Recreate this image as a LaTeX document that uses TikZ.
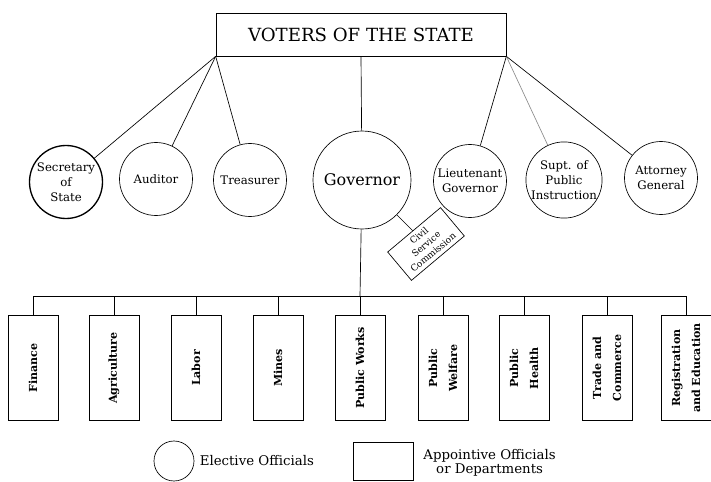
\documentclass[tikz,border=0pt]{standalone}
\usepackage{fontspec}
\setmainfont{DejaVu Serif}
\usetikzlibrary{positioning, calc}

\begin{document}
\begin{tikzpicture}[x=0.75pt, y=-0.75pt, line width=0.5pt,
  voterbox/.style={draw, minimum width=290*\px, minimum height=43*\px,
    font=\fontsize{13.6}{15}\selectfont},
  elect/.style={circle, draw, inner sep=0pt, minimum size=73*\px,
    align=center, font=\fontsize{8.8}{11.2}\selectfont},
  dept/.style={draw, minimum width=50*\px, minimum height=105*\px, inner sep=0pt},
  deptlbl/.style={rotate=90, align=center, inner sep=0pt,
    font=\bfseries\fontsize{8.3}{15}\selectfont},
  civbox/.style={draw, rotate=40, minimum width=69*\px, minimum height=37*\px,
    inner sep=0pt, align=center, font=\fontsize{6.8}{8.2}\selectfont},
  keytext/.style={align=center, font=\fontsize{10}{10.5}\selectfont}]
  \def\px{0.75pt}   % one pixel of the reference

  \useasboundingbox (0,0) rectangle (711,482);

  % ---- Voters ----
  \node[voterbox] (voters) at (361,34.5) {VOTERS OF THE STATE};

  % ---- Elective officials ----
  \node[elect, line width=1pt] (sec) at (66,182) {Secretary\\of\\State};
  \node[elect] (aud)  at (156,179) {Auditor};
  \node[elect] (tre)  at (250,180) {Treasurer};
  \node[elect, minimum size=98*\px, font=\fontsize{12}{14}\selectfont]
    (gov) at (362,180) {Governor};
  \node[elect] (ltg)  at (470,181) {Lieutenant\\Governor};
  \node[elect] (supt) at (564,180) {Supt. of\\Public\\Instruction};
  \node[elect] (atg)  at (661,178) {Attorney\\General};

  \draw (voters.south west) -- (sec);
  \draw (voters.south west) -- (aud);
  \draw (voters.south west) -- (tre);
  \draw (voters.south) -- (gov);
  \draw (voters.south east) -- (ltg);
  \draw[black!45] (voters.south east) -- (supt);
  \draw (voters.south east) -- (atg);

  % ---- Civil Service Commission ----
  \node[civbox] (civil) at (426,244) {Civil\\Service\\Commission};
  \draw (gov) -- (civil);

  % ---- Departments ----
  \coordinate (bus) at (360,296);
  \foreach \nm/\xx/\lbl in {fin/33/Finance, agr/114/Agriculture, lab/196/Labor,
      mns/278/Mines, pwk/360/Public Works, pwf/443/{Public\\Welfare},
      phl/524/{Public\\Health}, trc/607/{Trade and\\Commerce},
      reg/686/{Registration\\and Education}}
  {
    \node[dept] (\nm) at (\xx,368) {};
    \node[deptlbl] (\nm-t) at (\nm) {\lbl};
    \draw (\nm.north) -- (\nm.north |- bus);
  }
  \draw (fin.north |- bus) -- (reg.north |- bus);
  \draw (gov) -- (bus);

  % ---- Key ----
  \node[elect, minimum size=40*\px] (key-e) at (174,461) {};
  \node[keytext, right=0.5pt of key-e] (key-e-t) {Elective Officials};
  \node[draw, minimum width=60*\px, minimum height=38*\px] (key-a) at (383,461) {};
  \node[keytext, right=4pt of key-a, yshift=-1.5pt] (key-a-t)
    {Appointive Officials\\or Departments};
\end{tikzpicture}
\end{document}
